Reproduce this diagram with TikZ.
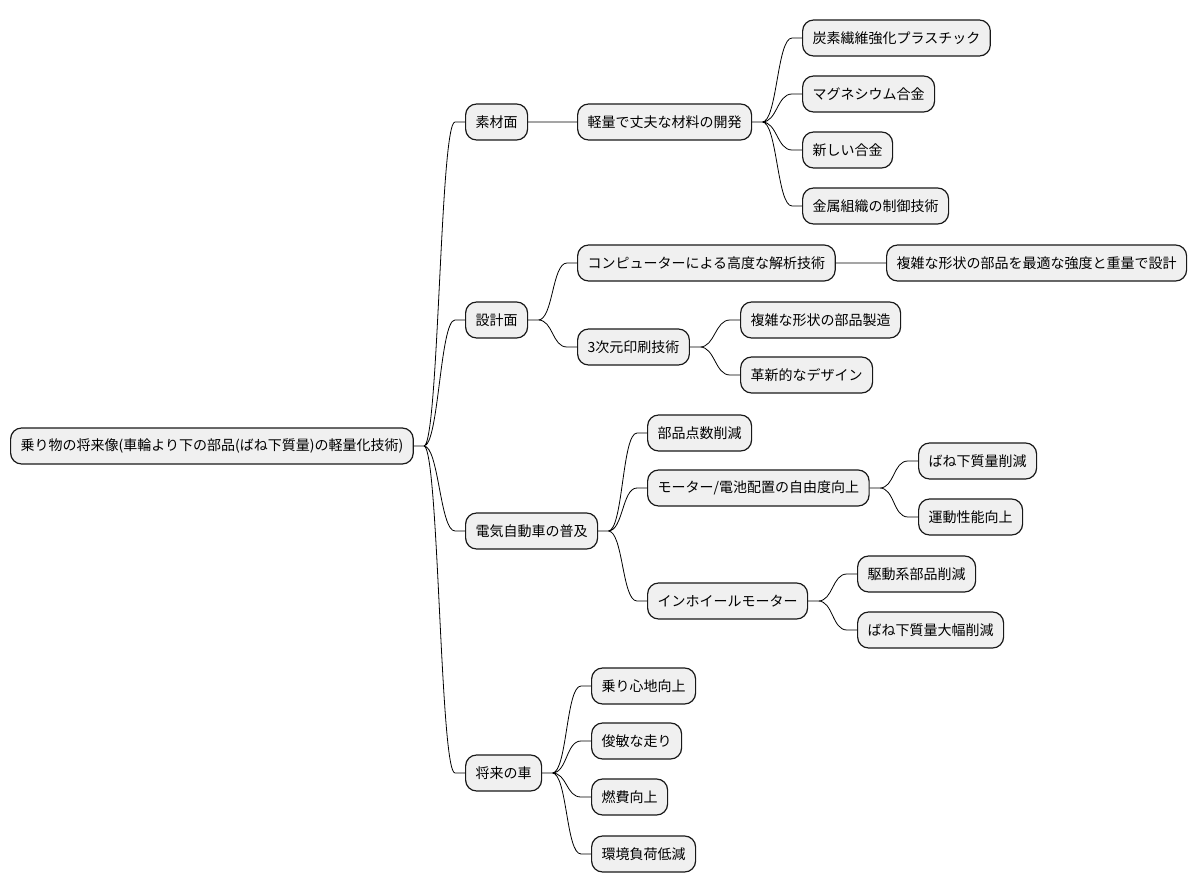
\documentclass[tikz,border=0pt]{standalone}
\usepackage{fontspec}
\setmainfont{Noto Sans CJK JP}
\usetikzlibrary{positioning, calc}

\begin{document}
\begin{tikzpicture}[x=1pt, y=-1pt]
        \tikzstyle{topic}=[draw=black!90, fill=black!6, line width=1.2pt, rounded corners=11pt, minimum height=36pt, inner xsep=10pt, anchor=west, font=\fontsize{14}{16}\selectfont]
        \tikzstyle{branch}=[black, line width=0.8pt, to path={(\tikztostart.east) -- ++(10pt,0) .. controls +(15pt,0) and +(-15pt,0) .. ([xshift=-10pt]\tikztotarget.west) -- (\tikztotarget.west)}]
        \useasboundingbox (0,0) rectangle (1196,893);
        \node[topic]  (0)   at (10,446)   {乗り物の将来像(車輪より下の部品(ばね下質量)の軽量化技術)};
        % 素材面
        \node[topic]  (1)   at (465,122)  {素材面};
        \node[topic]  (11)  at (577,122)  {軽量で丈夫な材料の開発};
        \node[topic]  (111) at (802,38)   {炭素繊維強化プラスチック};
        \node[topic]  (112) at (802,94)   {マグネシウム合金};
        \node[topic]  (113) at (802,150)  {新しい合金};
        \node[topic]  (114) at (802,206)  {金属組織の制御技術};
        % 設計面
        \node[topic]  (2)   at (465,320)  {設計面};
        \node[topic]  (21)  at (577,263)  {コンピューターによる高度な解析技術};
        \node[topic]  (211) at (886,263)  {複雑な形状の部品を最適な強度と重量で設計};
        \node[topic]  (22)  at (577,347)  {3次元印刷技術};
        \node[topic]  (221) at (740,320)  {複雑な形状の部品製造};
        \node[topic]  (222) at (740,375)  {革新的なデザイン};
        % 電気自動車
        \node[topic]  (3)   at (465,531)  {電気自動車の普及};
        \node[topic]  (31)  at (647,433)  {部品点数削減};
        \node[topic]  (32)  at (647,488)  {モーター/電池配置の自由度向上};
        \node[topic]  (321) at (918,461)  {ばね下質量削減};
        \node[topic]  (322) at (918,517)  {運動性能向上};
        \node[topic]  (33)  at (647,601)  {インホイールモーター};
        \node[topic]  (331) at (857,574)  {駆動系部品削減};
        \node[topic]  (332) at (857,630)  {ばね下質量大幅削減};
        % 将来の車
        \node[topic]  (4)   at (465,773)  {将来の車};
        \node[topic]  (41)  at (591,686)  {乗り心地向上};
        \node[topic]  (42)  at (591,741)  {俊敏な走り};
        \node[topic]  (43)  at (591,797)  {燃費向上};
        \node[topic]  (44)  at (591,854)  {環境負荷低減};
        \draw[branch] (0) to (1)  (0) to (2)  (0) to (3)  (0) to (4);
        \draw[branch] (1) to (11)  (11) to (111)  (11) to (112)  (11) to (113)  (11) to (114);
        \draw[branch] (2) to (21)  (2) to (22)  (21) to (211)  (22) to (221)  (22) to (222);
        \draw[branch] (3) to (31)  (3) to (32)  (3) to (33);
        \draw[branch] (32) to (321)  (32) to (322)  (33) to (331)  (33) to (332);
        \draw[branch] (4) to (41)  (4) to (42)  (4) to (43)  (4) to (44);
    \end{tikzpicture}
\end{document}
